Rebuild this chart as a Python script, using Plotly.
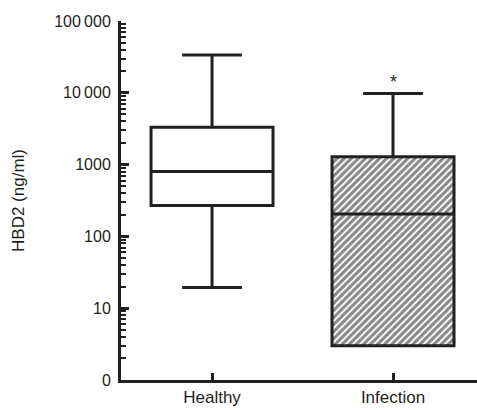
import plotly.graph_objects as go

categories = ["Healthy", "Infection"]
q1 = [270, 3]
median = [800, 205]
q3 = [3300, 1290]
lower_fence = [19.5, 3]
upper_fence = [33500, 9800]

tick_vals = [1, 10, 100, 1000, 10000, 100000]
tick_text = ["0", "10", "100", "1000", "10\u2009000", "100\u2009000"]
minor_vals = [m * 10 ** k for k in range(0, 5) for m in range(2, 10)]

INK = "#231f20"
FONT = "Liberation Sans, Arial, sans-serif"

fig = go.Figure()

# hatched fill for the Infection box
fig.add_trace(go.Bar(
    x=[categories[1]],
    base=[q1[1]],
    y=[q3[1] - q1[1]],
    width=0.674,
    marker=dict(color="white", line=dict(width=0),
                pattern=dict(shape="/", fgcolor="#111111", bgcolor="white",
                             size=5, solidity=0.62)),
    showlegend=False, hoverinfo="skip",
))

fig.add_trace(go.Box(
    x=categories,
    q1=q1, median=median, q3=q3,
    lowerfence=lower_fence, upperfence=upper_fence,
    width=0.674,
    whiskerwidth=0.49,
    line=dict(color=INK, width=3),
    fillcolor="rgba(0,0,0,0)",
    boxpoints=False,
    showlegend=False,
))

fig.add_annotation(x=categories[1], y=4, xref="x", yref="y",
                   text="*", showarrow=False, yanchor="bottom", yshift=-1,
                   font=dict(family=FONT, size=18, color=INK))

fig.update_layout(
    width=477, height=410,
    margin=dict(l=121, r=0, t=21, b=30, autoexpand=False),
    paper_bgcolor="white", plot_bgcolor="white",
    font=dict(family=FONT, size=16, color=INK),
    bargap=0,
    xaxis=dict(
        type="category", range=[-0.503, 1.464],
        categoryorder="array", categoryarray=categories,
        showline=True, linecolor=INK, linewidth=3,
        ticks="inside", ticklen=7, tickwidth=3, tickcolor=INK,
        showgrid=False, zeroline=False,
        tickfont=dict(family=FONT, size=17, color=INK),
    ),
    yaxis=dict(
        type="log", range=[0, 5],
        tickmode="array", tickvals=tick_vals, ticktext=tick_text,
        showline=True, linecolor=INK, linewidth=3,
        ticks="inside", ticklen=8, tickwidth=3, tickcolor=INK,
        minor=dict(tickmode="array", tickvals=minor_vals, ticks="inside",
                   ticklen=5, tickwidth=2, tickcolor=INK, showgrid=False),
        showgrid=False, zeroline=False,
        ticklabelstandoff=4,
        tickfont=dict(family=FONT, size=16, color=INK),
        title=dict(text="HBD2 (ng/ml)", standoff=26,
                   font=dict(family=FONT, size=17, color=INK)),
    ),
)

fig.write_html("out.html")
